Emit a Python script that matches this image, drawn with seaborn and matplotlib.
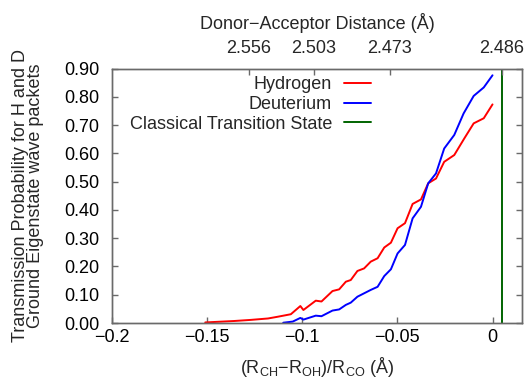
import matplotlib
matplotlib.use("Agg")
import matplotlib.pyplot as plt
import seaborn as sns
import pandas as pd

# Reaction coordinate (R_CH - R_OH)/R_CO in Angstrom and transmission probabilities
h_x = [-0.151, -0.136, -0.127, -0.118, -0.113, -0.106, -0.101, -0.0994, -0.0929,
       -0.0899, -0.0841, -0.0806, -0.0771, -0.0745, -0.0710, -0.0675, -0.0640,
       -0.0604, -0.0569, -0.0534, -0.0499, -0.0460, -0.0420, -0.0376, -0.0338,
       -0.0297, -0.0254, -0.0201, -0.0148, -0.0099, -0.0046, 0.0000]
h_y = [0.002, 0.007, 0.011, 0.016, 0.022, 0.031, 0.060, 0.046, 0.079,
       0.076, 0.113, 0.119, 0.146, 0.152, 0.184, 0.193, 0.217,
       0.229, 0.267, 0.284, 0.335, 0.353, 0.421, 0.437, 0.494,
       0.511, 0.570, 0.594, 0.653, 0.706, 0.724, 0.773]

d_x = [-0.110, -0.105, -0.101, -0.0994, -0.0929, -0.0899,
       -0.0841, -0.0806, -0.0771, -0.0745, -0.0710, -0.0675, -0.0640, -0.0604,
       -0.0569, -0.0534, -0.0499, -0.0460, -0.0420, -0.0376, -0.0338, -0.0297,
       -0.0254, -0.0201, -0.0152, -0.0099, -0.0046, 0.0000]
d_y = [0.001, 0.005, 0.018, 0.012, 0.026, 0.024,
       0.044, 0.048, 0.064, 0.072, 0.093, 0.105, 0.117, 0.128,
       0.166, 0.190, 0.246, 0.276, 0.370, 0.411, 0.494, 0.529,
       0.617, 0.665, 0.741, 0.803, 0.833, 0.876]

ts_x = 0.005  # classical transition state

# Donor-acceptor distance labels for the top axis
top_pos = [-0.128, -0.094, -0.054, 0.005]
top_labels = ["2.556", "2.503", "2.473", "2.486"]

x_ticks = [-0.2, -0.15, -0.1, -0.05, 0]
x_tick_labels = ["\u22120.2", "\u22120.15", "\u22120.1", "\u22120.05", "0"]
y_ticks = [0.0, 0.1, 0.2, 0.3, 0.4, 0.5, 0.6, 0.7, 0.8, 0.9]

sns.set_theme(style="ticks")
plt.rcParams["font.family"] = ["Liberation Sans", "DejaVu Sans"]
plt.rcParams["mathtext.default"] = "regular"
plt.rcParams["mathtext.fontset"] = "custom"
plt.rcParams["mathtext.rm"] = "Liberation Sans"
plt.rcParams["mathtext.it"] = "Liberation Sans"

FS = 13
frame_col = "#6a6a6a"

df = pd.concat([
    pd.DataFrame({"x": h_x, "p": h_y, "species": "Hydrogen"}),
    pd.DataFrame({"x": d_x, "p": d_y, "species": "Deuterium"}),
])

fig = plt.figure(figsize=(5.26, 3.79), dpi=100)
ax = fig.add_axes([112 / 526, 1 - 323 / 379, 410 / 526, (323 - 68.5) / 379])

sns.lineplot(data=df, x="x", y="p", hue="species", estimator=None, sort=False,
             palette={"Hydrogen": "#ff0000", "Deuterium": "#0000ff"},
             linewidth=1.4, ax=ax)
ax.axvline(ts_x, color="#006400", linewidth=1.4, label="Classical Transition State")

ax.set_xlim(-0.2, 0.0155)
ax.set_ylim(0, 0.9)
ax.set_xticks(x_ticks)
ax.set_xticklabels(x_tick_labels)
ax.set_yticks(y_ticks)
ax.set_yticklabels([f"{v:.2f}" for v in y_ticks])
ax.tick_params(axis="both", direction="in", length=4, width=1, color=frame_col,
               labelsize=FS, labelcolor="black")
ax.tick_params(axis="y", right=True, pad=9)
ax.tick_params(axis="x", pad=4.5)
for s in ax.spines.values():
    s.set_color(frame_col)
    s.set_linewidth(1.0)
    s.set_visible(True)

ax.set_xlabel("(R$_{CH}$\u2212R$_{OH}$)/R$_{CO}$ (\u00c5)", fontsize=FS, labelpad=6)
ax.set_ylabel("Transmission Probability for H and D\nGround Eigenstate wave packets",
              fontsize=FS, linespacing=0.9, va="center")
ax.yaxis.set_label_coords(-0.205, 0.5)

handles, labels = ax.get_legend_handles_labels()
leg = ax.legend(handles, labels, loc="upper right", bbox_to_anchor=(0.631, 0.97),
                frameon=False, fontsize=FS, markerfirst=False, handlelength=1.5,
                handletextpad=0.65, labelspacing=0.15, borderaxespad=0.0,
                borderpad=0.0)
for t in leg.get_texts():
    t.set_ha("right")
leg._legend_box.align = "right"

ax2 = ax.twiny()
ax2.set_xlim(ax.get_xlim())
ax2.set_xticks(top_pos)
ax2.set_xticklabels(top_labels)
ax2.tick_params(axis="x", direction="in", length=4, width=1, color=frame_col,
                labelsize=FS, pad=8)
ax2.set_xlabel("Donor\u2212Acceptor Distance (\u00c5)", fontsize=FS, labelpad=8)
for s in ax2.spines.values():
    s.set_color(frame_col)
    s.set_linewidth(1.0)

fig.savefig("out.png", dpi=100)
